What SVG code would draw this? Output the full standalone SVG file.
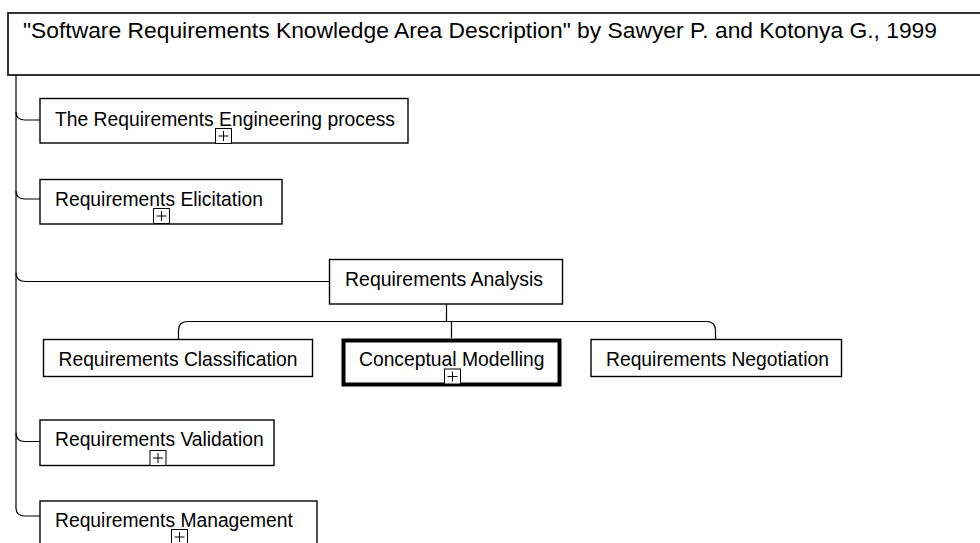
<svg xmlns="http://www.w3.org/2000/svg" width="980" height="543" viewBox="0 0 980 543">
  <style>
    .box { fill: #ffffff; stroke: #000000; stroke-width: 1.4; }
    .focus { fill: #ffffff; stroke: #000000; stroke-width: 4; }
    .title { fill: #ffffff; stroke: #000000; stroke-width: 1.6; }
    .lbl { font-family: "Liberation Sans", Arial, sans-serif; font-size: 19.3px; fill: #000000; }
    .ttl { font-family: "Liberation Sans", Arial, sans-serif; font-size: 22px; fill: #000000; }
    .wire { fill: none; stroke: #000000; stroke-width: 1.2; }
    .exp rect { fill: #ffffff; stroke: #000000; stroke-width: 1; }
    .exp path { fill: none; stroke: #000000; stroke-width: 1; }
  </style>
  <defs>
    <g id="expander" class="exp">
      <rect x="0" y="0" width="16" height="15"/>
      <path d="M3,7.5 H13 M8,2.5 V12.5"/>
    </g>
  </defs>
  <rect width="980" height="543" fill="#ffffff"/>

  <!-- connectors -->
  <g id="connectors">
    <path class="wire" d="M16,75 V508"/>
    <path class="wire" d="M16,112 Q16,120 25,120 H40"/>
    <path class="wire" d="M16,191 Q16,199 25,199 H40"/>
    <path class="wire" d="M16,273 Q16,281.5 26,281.5 H329"/>
    <path class="wire" d="M16,433 Q16,441.5 25,441.5 H40"/>
    <path class="wire" d="M16,508 Q16,516 25,516 H40"/>
    <path class="wire" d="M446.5,304 V321.5"/>
    <path class="wire" d="M178.5,339 V330 Q178.5,321.5 188,321.5 H706 Q715.5,321.5 715.5,330 V339"/>
    <path class="wire" d="M451.5,321.5 V338"/>
  </g>

  <!-- root -->
  <g id="root">
    <rect class="title" x="8" y="13" width="990" height="62"/>
    <text class="ttl" x="23" y="38" textLength="914" lengthAdjust="spacingAndGlyphs">"Software Requirements Knowledge Area Description" by Sawyer P. and Kotonya G., 1999</text>
  </g>

  <g id="node-re-process">
    <rect class="box" x="40" y="98.5" width="368" height="44.5"/>
    <text class="lbl" x="55" y="125.5" textLength="340" lengthAdjust="spacingAndGlyphs">The Requirements Engineering process</text>
    <use href="#expander" x="215.5" y="128.5"/>
  </g>

  <g id="node-elicitation">
    <rect class="box" x="40" y="179.5" width="242" height="44.5"/>
    <text class="lbl" x="55" y="205.5">Requirements Elicitation</text>
    <use href="#expander" x="153.5" y="208.5"/>
  </g>

  <g id="node-analysis">
    <rect class="box" x="329.5" y="259.5" width="233" height="44.5"/>
    <text class="lbl" x="345" y="286" textLength="198" lengthAdjust="spacingAndGlyphs">Requirements Analysis</text>
  </g>

  <g id="node-classification">
    <rect class="box" x="43.5" y="339.5" width="269" height="37"/>
    <text class="lbl" x="58.5" y="365.5">Requirements Classification</text>
  </g>

  <g id="node-modelling">
    <rect class="focus" x="343.5" y="340.5" width="216" height="44"/>
    <text class="lbl" x="359" y="365.5">Conceptual Modelling</text>
    <use href="#expander" x="444.5" y="369"/>
  </g>

  <g id="node-negotiation">
    <rect class="box" x="591" y="339.5" width="250.5" height="37"/>
    <text class="lbl" x="606" y="365.5">Requirements Negotiation</text>
  </g>

  <g id="node-validation">
    <rect class="box" x="40" y="420" width="234" height="45.5"/>
    <text class="lbl" x="55" y="446">Requirements Validation</text>
    <use href="#expander" x="150" y="450.5"/>
  </g>

  <g id="node-management">
    <rect class="box" x="40" y="501" width="277" height="60"/>
    <text class="lbl" x="55" y="527">Requirements Management</text>
    <use href="#expander" x="171.5" y="529.5"/>
  </g>
</svg>
